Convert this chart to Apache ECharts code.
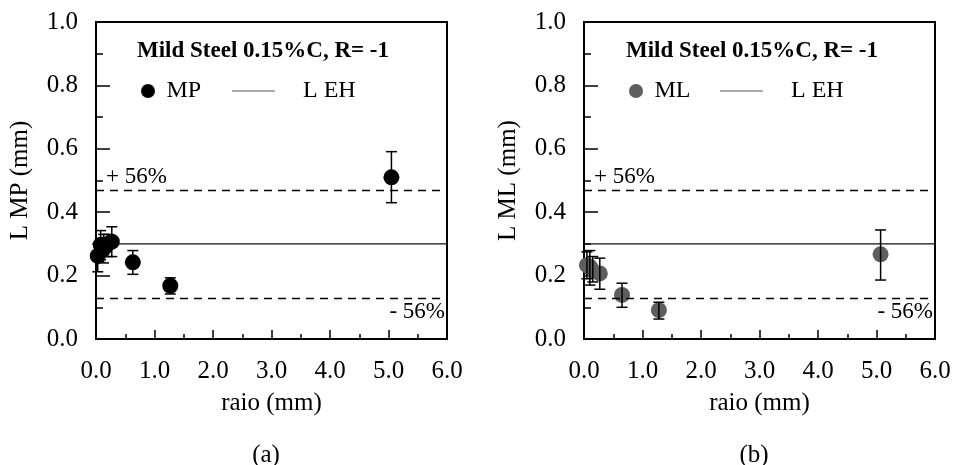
<!DOCTYPE html>
<html>
<head>
<meta charset="utf-8">
<script src="https://cdn.jsdelivr.net/npm/echarts@6/dist/echarts.min.js"></script>
<style>
html,body{margin:0;padding:0;background:#fff;}
#chart{width:956px;height:465px;}
</style>
</head>
<body>
<div id="chart"></div>
<script>
// ---- data ----
const xTicks = [0, 6];           // x range (mm)
const yTicks = [0, 1];           // y range (mm)
const lehValue = 0.3;            // L EH
const bandPct = 0.56;            // +/- 56 %

const mpX    = [0.03, 0.08, 0.13, 0.20, 0.27, 0.63, 1.27, 5.05];
const mpY    = [0.262, 0.297, 0.285, 0.300, 0.307, 0.242, 0.168, 0.510];
const mpLow  = [0.212, 0.250, 0.240, 0.260, 0.260, 0.204, 0.142, 0.430];
const mpHigh = [0.300, 0.342, 0.330, 0.330, 0.354, 0.279, 0.193, 0.591];

const mlX    = [0.05, 0.10, 0.15, 0.27, 0.65, 1.28, 5.07];
const mlY    = [0.233, 0.228, 0.215, 0.207, 0.139, 0.091, 0.267];
const mlLow  = [0.190, 0.170, 0.180, 0.157, 0.100, 0.063, 0.186];
const mlHigh = [0.275, 0.279, 0.260, 0.255, 0.176, 0.116, 0.344];

const titleText = 'Mild Steel 0.15%C, R= -1';

// ---- build ----
const FONT = "'Liberation Serif', 'Times New Roman', serif";
const pts = (xs, ys) => xs.map((x, i) => [x, ys[i]]);
const errs = (xs, lo, hi) => xs.map((x, i) => [x, lo[i], hi[i]]);

function xAxisCfg(grid) {
  return {
    type: 'value', gridIndex: grid, min: xTicks[0], max: xTicks[1], interval: 1,
    name: 'raio (mm)', nameLocation: 'middle', nameGap: 52,
    nameTextStyle: {fontFamily: FONT, fontSize: 25, color: '#000'},
    axisLine: {show: true, onZero: false, lineStyle: {color: '#000', width: 2}},
    axisTick: {show: true, inside: true, length: 9, lineStyle: {color: '#000', width: 1.5}},
    minorTick: {show: true, splitNumber: 2, length: 5, lineStyle: {color: '#000', width: 1.5}},
    axisLabel: {fontFamily: FONT, fontSize: 25, color: '#000', margin: 20,
      formatter: v => v.toFixed(1)},
    splitLine: {show: false}
  };
}
function yAxisCfg(grid, name) {
  return {
    type: 'value', gridIndex: grid, min: yTicks[0], max: yTicks[1], interval: 0.2,
    name: name, nameLocation: 'middle', nameGap: 63,
    nameTextStyle: {fontFamily: FONT, fontSize: 25, color: '#000'},
    axisLine: {show: true, onZero: false, lineStyle: {color: '#000', width: 2}},
    axisTick: {show: true, inside: true, length: 14, lineStyle: {color: '#000', width: 1.5}},
    minorTick: {show: true, splitNumber: 2, length: 7, lineStyle: {color: '#000', width: 1.5}},
    axisLabel: {fontFamily: FONT, fontSize: 25, color: '#000', margin: 18,
      formatter: v => v.toFixed(1)},
    splitLine: {show: false}
  };
}

function errorSeries(grid, data) {
  return {
    type: 'custom', xAxisIndex: grid, yAxisIndex: grid, z: 5, silent: true,
    data: data,
    renderItem: function (params, api) {
      const x = api.value(0);
      const lo = api.coord([x, api.value(1)]);
      const hi = api.coord([x, api.value(2)]);
      const w = 5.5;
      const st = {stroke: '#000', lineWidth: 1.5};
      return {type: 'group', children: [
        {type: 'line', shape: {x1: lo[0], y1: lo[1], x2: hi[0], y2: hi[1]}, style: st},
        {type: 'line', shape: {x1: lo[0] - w, y1: lo[1], x2: lo[0] + w, y2: lo[1]}, style: st},
        {type: 'line', shape: {x1: hi[0] - w, y1: hi[1], x2: hi[0] + w, y2: hi[1]}, style: st}
      ]};
    }
  };
}

function lehSeries(grid) {
  return {
    name: 'L EH', type: 'line', xAxisIndex: grid, yAxisIndex: grid, z: 1,
    data: [[xTicks[0], lehValue], [xTicks[1], lehValue]],
    symbol: 'none', silent: true,
    itemStyle: {color: '#111'},
    lineStyle: {color: '#111', width: 1.3},
    markLine: {
      silent: true, symbol: 'none',
      lineStyle: {color: '#000', width: 1.3, type: [8, 6]},
      label: {fontFamily: FONT, fontSize: 23, color: '#000'},
      data: [
        {yAxis: lehValue * (1 + bandPct),
         label: {formatter: '+ 56%', position: 'insideStartTop', distance: [10, 2]}},
        {yAxis: lehValue * (1 - bandPct),
         label: {formatter: '- 56%', position: 'insideEndBottom', distance: [2, 3]}}
      ]
    }
  };
}

function scatterSeries(grid, name, data, color) {
  return {
    name: name, type: 'scatter', xAxisIndex: grid, yAxisIndex: grid, z: 3,
    data: data, symbol: 'circle', symbolSize: 16,
    itemStyle: {color: color, opacity: 1}
  };
}

const legendText = {fontFamily: FONT, fontSize: 24, color: '#000'};
function legends(offset, name) {
  return [
    {data: [{name: name, icon: 'circle'}], left: offset + 40, top: 74, itemWidth: 27, itemHeight: 14,
     textStyle: legendText, selectedMode: false},
    {data: [{name: 'L EH', icon: 'path://M0,0L43,0L43,1L0,1Z', itemStyle: {color: '#555'}}],
     left: offset + 131, top: 74, itemWidth: 43, itemHeight: 14, symbolKeepAspect: true,
     textStyle: Object.assign({padding: [0, 0, 0, 23]}, legendText), selectedMode: false}
  ];
}

const option = {
  backgroundColor: '#fff',
  animation: false,
  title: [
    {text: titleText, left: 132, top: 35,
     textStyle: {fontFamily: FONT, fontSize: 23, fontWeight: 'bold', color: '#000'}},
    {text: titleText, left: 621, top: 35,
     textStyle: {fontFamily: FONT, fontSize: 23, fontWeight: 'bold', color: '#000'}},
    {text: '(a)', left: 261, top: 438, textAlign: 'center',
     textStyle: {fontFamily: FONT, fontSize: 25, fontWeight: 'normal', color: '#000'}},
    {text: '(b)', left: 749, top: 438, textAlign: 'center',
     textStyle: {fontFamily: FONT, fontSize: 25, fontWeight: 'normal', color: '#000'}}
  ],
  legend: [].concat(legends(96, 'MP'), legends(584, 'ML')),
  grid: [
    {left: 96, top: 22, width: 351, height: 317, show: true, borderColor: '#000', borderWidth: 2, backgroundColor: 'transparent'},
    {left: 584, top: 22, width: 351, height: 317, show: true, borderColor: '#000', borderWidth: 2, backgroundColor: 'transparent'}
  ],
  xAxis: [xAxisCfg(0), xAxisCfg(1)],
  yAxis: [yAxisCfg(0, 'L MP (mm)'), yAxisCfg(1, 'L ML (mm)')],
  series: [
    lehSeries(0),
    scatterSeries(0, 'MP', pts(mpX, mpY), '#000'),
    errorSeries(0, errs(mpX, mpLow, mpHigh)),
    lehSeries(1),
    scatterSeries(1, 'ML', pts(mlX, mlY), '#5e5e5e'),
    errorSeries(1, errs(mlX, mlLow, mlHigh))
  ]
};

const chart = echarts.init(document.getElementById('chart'), null, {renderer: 'canvas'});
chart.setOption(option);
</script>
</body>
</html>
